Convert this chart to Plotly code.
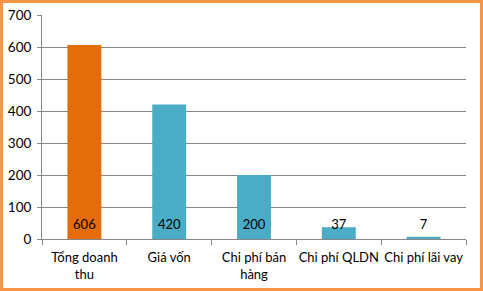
import plotly.graph_objects as go

categories = ["Tổng doanh<br>thu", "Giá vốn", "Chi phí bán<br>hàng", "Chi phí QLDN", "Chi phí lãi vay"]
values = [606, 420, 200, 37, 7]
bar_colors = ["#E46C0A", "#4BACC6", "#4BACC6", "#4BACC6", "#4BACC6"]
label_level = 42
y_ticks = [0, 100, 200, 300, 400, 500, 600, 700]

W, H = 483, 291
ml, mr, mt, mb = 42, 17, 15, 52
pw, ph = W - ml - mr, H - mt - mb
FONT = "Lato"

fig = go.Figure()
fig.add_trace(go.Bar(x=categories, y=values, marker_color=bar_colors,
                     marker_line_width=0, hoverinfo="skip"))
fig.add_trace(go.Scatter(x=categories, y=[label_level] * len(values), mode="text",
                         text=[str(v) for v in values],
                         textfont=dict(size=13, color="#000000", family=FONT),
                         hoverinfo="skip"))

fig.update_layout(
    width=W, height=H,
    margin=dict(l=ml, r=mr, t=mt, b=mb, autoexpand=False),
    paper_bgcolor="white", plot_bgcolor="white",
    showlegend=False, bargap=0.6,
    font=dict(family=FONT, size=13, color="#000000"),
    xaxis=dict(showgrid=False, showline=True, linecolor="#868686", linewidth=1,
               ticks="outside", tickson="boundaries", ticklen=5, tickcolor="#868686",
               tickangle=0, automargin=False, ticklabelstandoff=6,
               tickfont=dict(size=13), fixedrange=True),
    yaxis=dict(range=[0, 700], tickvals=y_ticks, showgrid=True, gridcolor="#868686",
               gridwidth=1, showline=True, linecolor="#868686", ticks="outside",
               ticklen=4, tickcolor="#868686", tickfont=dict(size=13.5), zeroline=False,
               ticklabelstandoff=3, automargin=False, fixedrange=True),
    shapes=[dict(type="rect", xref="paper", yref="paper",
                 x0=(-ml + 1.5) / pw, x1=1 + (mr - 1.5) / pw,
                 y0=(-mb + 1.5) / ph, y1=1 + (mt - 1.5) / ph,
                 line=dict(color="#F79646", width=3), layer="above")],
)

fig.write_html("out.html")
